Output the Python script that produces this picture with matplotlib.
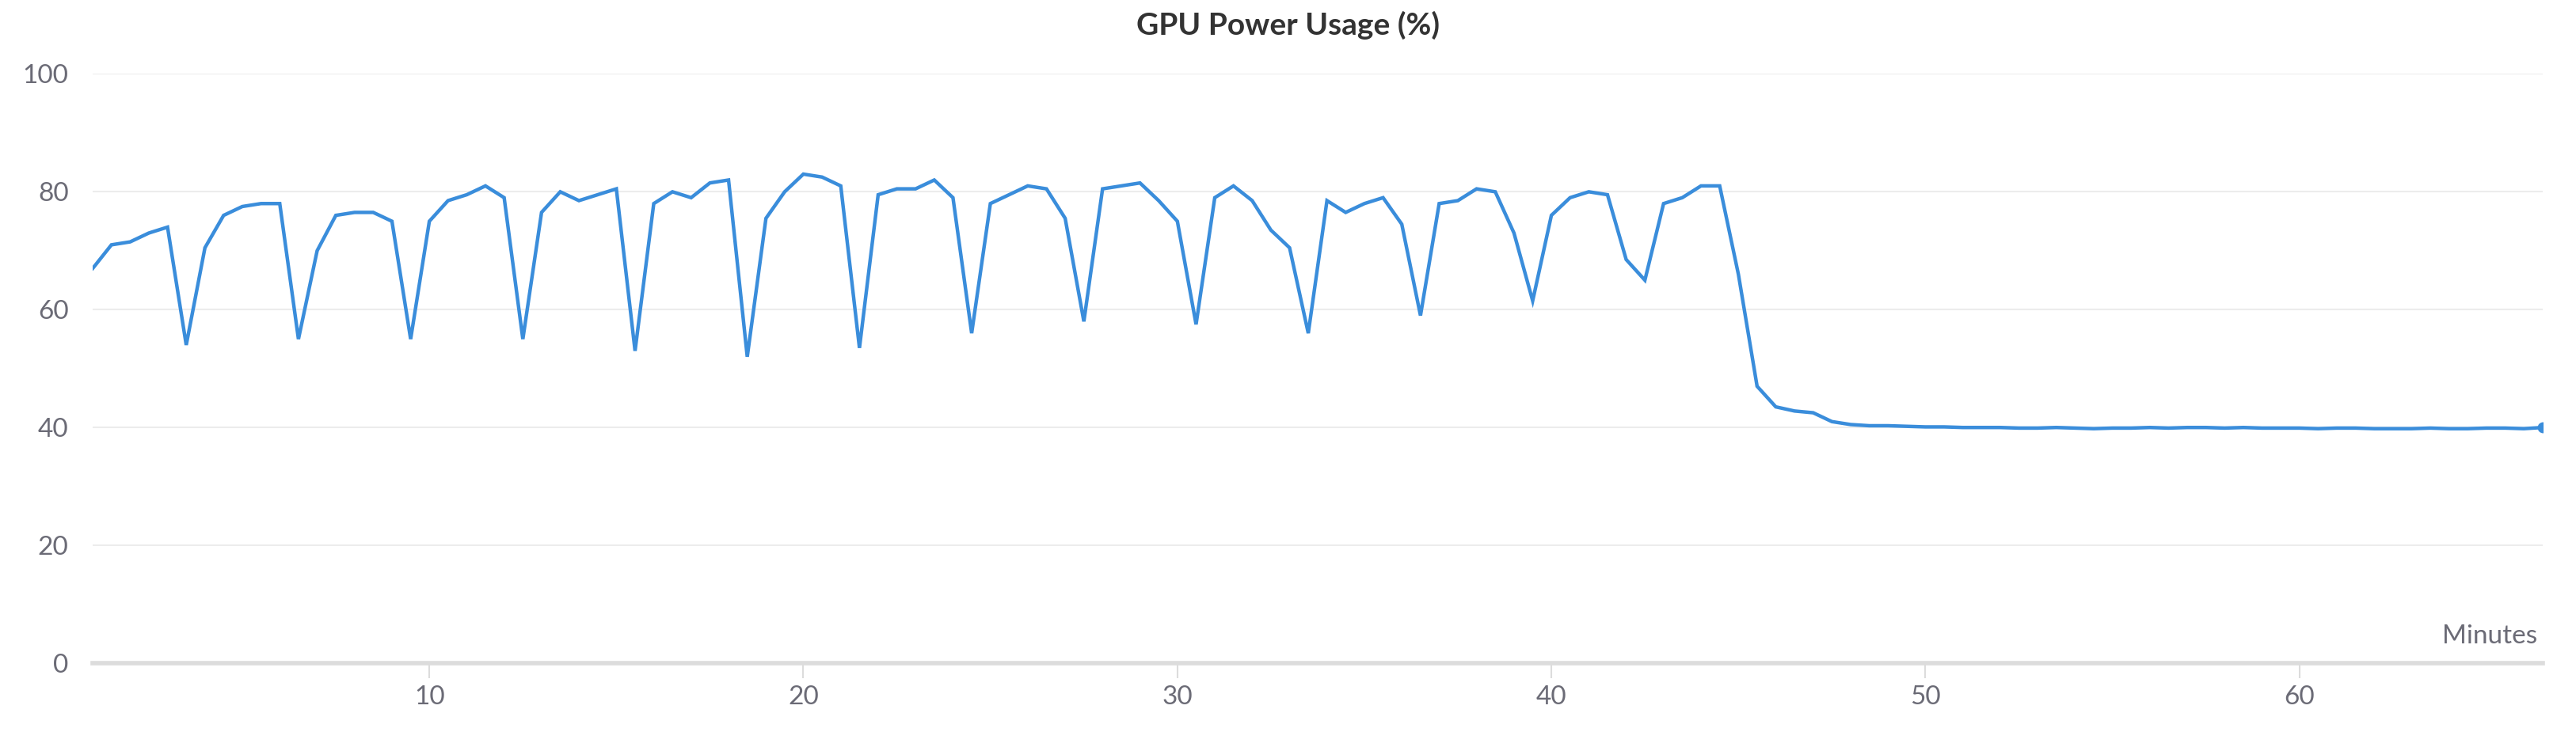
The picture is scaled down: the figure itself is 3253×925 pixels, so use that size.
import numpy as np
import matplotlib
matplotlib.use('Agg')
import matplotlib.pyplot as plt

plt.rcParams['font.family'] = ['Lato', 'DejaVu Sans']

# GPU power usage sampled every 30 s, starting at minute 1
power = [
    67, 71, 71.5, 73, 74,
    54, 70.5, 76, 77.5, 78, 78,
    55, 70, 76, 76.5, 76.5, 75,
    55, 75, 78.5, 79.5, 81, 79,
    55, 76.5, 80, 78.5, 79.5, 80.5,
    53, 78, 80, 79, 81.5, 82,
    52, 75.5, 80, 83, 82.5, 81,
    53.5, 79.5, 80.5, 80.5, 82, 79,
    56, 78, 79.5, 81, 80.5, 75.5,
    58, 80.5, 81, 81.5, 78.5, 75,
    57.5, 79, 81, 78.5, 73.5, 70.5,
    56, 78.5, 76.5, 78, 79, 74.5,
    59, 78, 78.5, 80.5, 80, 73,
    61.5, 76, 79, 80, 79.5, 68.5,
    65, 78, 79, 81, 81,
    66, 47, 43.5, 42.8, 42.5, 41, 40.5, 40.3,
    40.3, 40.2, 40.1, 40.1, 40.0, 40.0, 40.0, 39.9, 39.9, 40.0,
    39.9, 39.8, 39.9, 39.9, 40.0, 39.9, 40.0, 40.0, 39.9, 40.0,
    39.9, 39.9, 39.9, 39.8, 39.9, 39.9, 39.8, 39.8, 39.8, 39.9,
    39.8, 39.8, 39.9, 39.9, 39.8, 40.0,
]
minutes = 1.0 + 0.5 * np.arange(len(power))

x_ticks = [10, 20, 30, 40, 50, 60]
y_ticks = [0, 20, 40, 60, 80, 100]

line_color = '#3a8ddb'
text_color = '#6b6b76'

fig = plt.figure(figsize=(32.53, 9.25), dpi=100)
ax = fig.add_axes([0.036, 0.094, 0.951, 0.805])

ax.plot(minutes, power, color=line_color, linewidth=3.2, solid_joinstyle='miter')
ax.plot(minutes[-1], power[-1], 'o', color=line_color, markersize=9)

ax.set_xlim(minutes[0], minutes[-1])
ax.set_ylim(0, 100)
ax.set_yticks(y_ticks)
ax.set_xticks(x_ticks)

for s in ['top', 'right', 'left']:
    ax.spines[s].set_visible(False)
ax.spines['bottom'].set_color('#dcdcdc')
ax.spines['bottom'].set_linewidth(4)
ax.spines['bottom'].set_position(('data', 0))

ax.yaxis.grid(True, color='#ececec', linewidth=1.5)
ax.set_axisbelow(True)
ax.tick_params(axis='y', length=0, labelsize=24, labelcolor=text_color, pad=22)
ax.tick_params(axis='x', length=14, width=1.5, color='#dcdcdc', labelsize=24,
               labelcolor=text_color, pad=6)

ax.text(0.998, 0.025, 'Minutes', transform=ax.transAxes, ha='right', va='bottom',
        fontsize=24, color=text_color)
fig.suptitle('GPU Power Usage (%)', fontsize=28, fontweight='bold', color='#333333', y=0.985)

fig.savefig('out.png', dpi=100)
